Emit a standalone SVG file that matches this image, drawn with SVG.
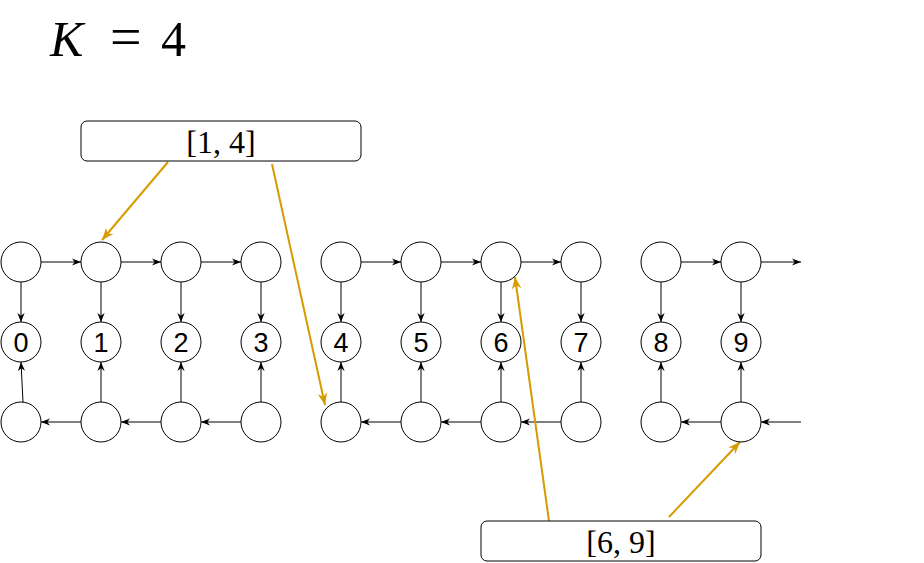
<svg xmlns="http://www.w3.org/2000/svg" width="924" height="563" viewBox="0 0 924 563">
<defs>
<marker id="ab" viewBox="0 0 10 10" refX="10" refY="5" markerWidth="9" markerHeight="9" markerUnits="userSpaceOnUse" orient="auto">
<path d="M0,1 L10,5 L0,9 L3,5 z" fill="#000"/>
</marker>
<marker id="ao" viewBox="0 0 10 10" refX="10" refY="5" markerWidth="12" markerHeight="12" markerUnits="userSpaceOnUse" orient="auto">
<path d="M0,1 L10,5 L0,9 L3,5 z" fill="#d79b00"/>
</marker>
</defs>
<style>
.c{fill:#fff;stroke:#000;stroke-width:1}
.b{fill:#fff;stroke:#000;stroke-width:1}
.e{stroke:#000;stroke-width:1;fill:none;marker-end:url(#ab)}
.o{stroke:#d79b00;stroke-width:2;fill:none;marker-end:url(#ao)}
.d{font-family:"Liberation Sans",Arial,sans-serif;font-size:27px;text-anchor:middle;fill:#000}
.m{font-family:"Liberation Serif","Times New Roman",serif;font-size:32px;text-anchor:middle;fill:#000}
.k{font-family:"Liberation Serif","Times New Roman",serif;font-size:50px;fill:#000}
</style>
<rect width="924" height="563" fill="#fff"/>
<g id="title">
<text class="k" y="56"><tspan x="50" font-style="italic">K</tspan><tspan x="110" font-size="56">=</tspan><tspan x="161">4</tspan></text>
</g>
<g id="connectors">
<line class="e" x1="41" y1="262" x2="81" y2="262"/>
<line class="e" x1="121" y1="262" x2="161" y2="262"/>
<line class="e" x1="201" y1="262" x2="241" y2="262"/>
<line class="e" x1="361" y1="262" x2="401" y2="262"/>
<line class="e" x1="441" y1="262" x2="481" y2="262"/>
<line class="e" x1="521" y1="262" x2="561" y2="262"/>
<line class="e" x1="681" y1="262" x2="721" y2="262"/>
<line class="e" x1="761" y1="262" x2="801" y2="262"/>
<line class="e" x1="21" y1="282" x2="21" y2="322"/>
<line class="e" x1="101" y1="282" x2="101" y2="322"/>
<line class="e" x1="181" y1="282" x2="181" y2="322"/>
<line class="e" x1="261" y1="282" x2="261" y2="322"/>
<line class="e" x1="341" y1="282" x2="341" y2="322"/>
<line class="e" x1="421" y1="282" x2="421" y2="322"/>
<line class="e" x1="501" y1="282" x2="501" y2="322"/>
<line class="e" x1="581" y1="282" x2="581" y2="322"/>
<line class="e" x1="661" y1="282" x2="661" y2="322"/>
<line class="e" x1="741" y1="282" x2="741" y2="322"/>
<line class="e" x1="23" y1="402" x2="21" y2="362"/>
<line class="e" x1="101" y1="402" x2="101" y2="362"/>
<line class="e" x1="181" y1="402" x2="181" y2="362"/>
<line class="e" x1="261" y1="402" x2="261" y2="362"/>
<line class="e" x1="341" y1="402" x2="341" y2="362"/>
<line class="e" x1="421" y1="402" x2="421" y2="362"/>
<line class="e" x1="501" y1="402" x2="501" y2="362"/>
<line class="e" x1="581" y1="402" x2="581" y2="362"/>
<line class="e" x1="661" y1="402" x2="661" y2="362"/>
<line class="e" x1="741" y1="402" x2="741" y2="362"/>
<line class="e" x1="81" y1="422" x2="41" y2="422"/>
<line class="e" x1="161" y1="422" x2="121" y2="422"/>
<line class="e" x1="241" y1="422" x2="201" y2="422"/>
<line class="e" x1="401" y1="422" x2="361" y2="422"/>
<line class="e" x1="481" y1="422" x2="441" y2="422"/>
<line class="e" x1="561" y1="422" x2="521" y2="422"/>
<line class="e" x1="721" y1="422" x2="681" y2="422"/>
<line class="e" x1="801" y1="422" x2="761" y2="422"/>
<line class="o" x1="168" y1="162" x2="102" y2="240"/>
<line class="o" x1="272" y1="164" x2="325" y2="405"/>
<line class="o" x1="549" y1="521" x2="515" y2="277"/>
<line class="o" x1="669" y1="517" x2="740" y2="442"/>
</g>
<g id="nodes">
<g id="t0"><circle class="c" cx="21" cy="262" r="20"/></g>
<g id="t1"><circle class="c" cx="101" cy="262" r="20"/></g>
<g id="t2"><circle class="c" cx="181" cy="262" r="20"/></g>
<g id="t3"><circle class="c" cx="261" cy="262" r="20"/></g>
<g id="t4"><circle class="c" cx="341" cy="262" r="20"/></g>
<g id="t5"><circle class="c" cx="421" cy="262" r="20"/></g>
<g id="t6"><circle class="c" cx="501" cy="262" r="20"/></g>
<g id="t7"><circle class="c" cx="581" cy="262" r="20"/></g>
<g id="t8"><circle class="c" cx="661" cy="262" r="20"/></g>
<g id="t9"><circle class="c" cx="741" cy="262" r="20"/></g>
<g id="m0"><circle class="c" cx="21" cy="342" r="20"/><text class="d" x="21" y="352">0</text></g>
<g id="m1"><circle class="c" cx="101" cy="342" r="20"/><text class="d" x="101" y="352">1</text></g>
<g id="m2"><circle class="c" cx="181" cy="342" r="20"/><text class="d" x="181" y="352">2</text></g>
<g id="m3"><circle class="c" cx="261" cy="342" r="20"/><text class="d" x="261" y="352">3</text></g>
<g id="m4"><circle class="c" cx="341" cy="342" r="20"/><text class="d" x="341" y="352">4</text></g>
<g id="m5"><circle class="c" cx="421" cy="342" r="20"/><text class="d" x="421" y="352">5</text></g>
<g id="m6"><circle class="c" cx="501" cy="342" r="20"/><text class="d" x="501" y="352">6</text></g>
<g id="m7"><circle class="c" cx="581" cy="342" r="20"/><text class="d" x="581" y="352">7</text></g>
<g id="m8"><circle class="c" cx="661" cy="342" r="20"/><text class="d" x="661" y="352">8</text></g>
<g id="m9"><circle class="c" cx="741" cy="342" r="20"/><text class="d" x="741" y="352">9</text></g>
<g id="b0"><circle class="c" cx="21" cy="422" r="20"/></g>
<g id="b1"><circle class="c" cx="101" cy="422" r="20"/></g>
<g id="b2"><circle class="c" cx="181" cy="422" r="20"/></g>
<g id="b3"><circle class="c" cx="261" cy="422" r="20"/></g>
<g id="b4"><circle class="c" cx="341" cy="422" r="20"/></g>
<g id="b5"><circle class="c" cx="421" cy="422" r="20"/></g>
<g id="b6"><circle class="c" cx="501" cy="422" r="20"/></g>
<g id="b7"><circle class="c" cx="581" cy="422" r="20"/></g>
<g id="b8"><circle class="c" cx="661" cy="422" r="20"/></g>
<g id="b9"><circle class="c" cx="741" cy="422" r="20"/></g>
<g id="box14"><rect class="b" x="81" y="121" width="280" height="40" rx="6"/><text class="m" x="221" y="153">[1, 4]</text></g>
<g id="box69"><rect class="b" x="481" y="521" width="280" height="40" rx="6"/><text class="m" x="621" y="553">[6, 9]</text></g>
</g>
</svg>
